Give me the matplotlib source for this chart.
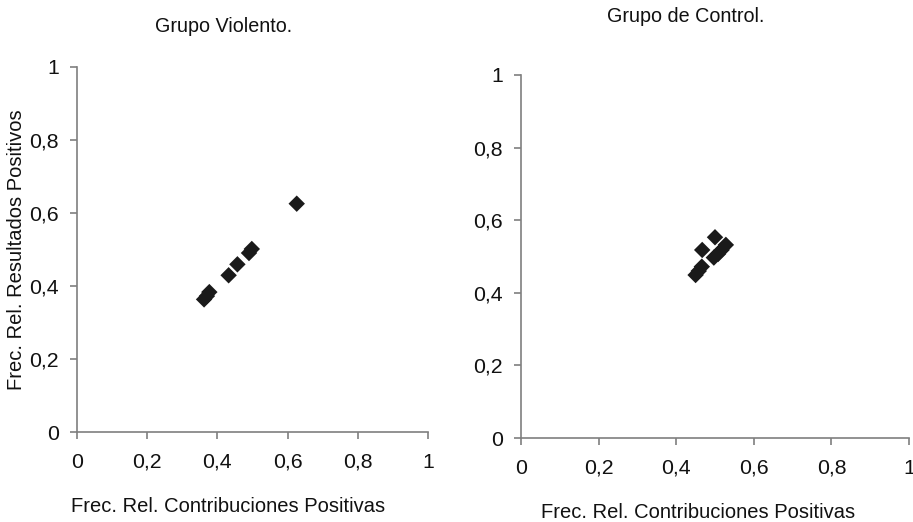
import matplotlib
matplotlib.use("Agg")
import matplotlib.pyplot as plt
from matplotlib.ticker import FuncFormatter

plt.rcParams['font.family'] = ['Liberation Sans', 'DejaVu Sans']

# Data
violento_x = [0.362, 0.370, 0.377, 0.432, 0.457, 0.490, 0.498, 0.626]
violento_y = [0.363, 0.372, 0.383, 0.429, 0.459, 0.490, 0.501, 0.625]
control_x = [0.450, 0.458, 0.466, 0.467, 0.500, 0.497, 0.508, 0.517, 0.528]
control_y = [0.449, 0.460, 0.472, 0.518, 0.553, 0.497, 0.507, 0.518, 0.532]
ticks = [0, 0.2, 0.4, 0.6, 0.8, 1]
titles = ["Grupo Violento.", "Grupo de Control."]
xlabel = "Frec. Rel. Contribuciones Positivas"
ylabel = "Frec. Rel. Resultados Positivos"

W, H = 913, 522
fig = plt.figure(figsize=(W / 100, H / 100), dpi=100)

def box(x0, x1, ytop, ybot):
    return [x0 / W, 1 - ybot / H, (x1 - x0) / W, (ybot - ytop) / H]

fmt = FuncFormatter(lambda v, p: ("%g" % v).replace('.', ','))
gray = '#7f7f7f'

def style(ax):
    ax.set_xlim(0, 1)
    ax.set_ylim(0, 1)
    ax.set_xticks(ticks)
    ax.set_yticks(ticks)
    ax.xaxis.set_major_formatter(fmt)
    ax.yaxis.set_major_formatter(fmt)
    for s in ['top', 'right']:
        ax.spines[s].set_visible(False)
    for s in ['left', 'bottom']:
        ax.spines[s].set_color(gray)
        ax.spines[s].set_linewidth(1.2)
    ax.tick_params(direction='out', length=5, width=1.2, color=gray,
                   labelsize=15.3, labelcolor='#111111')
    ax.tick_params(axis='x', pad=10)
    ax.tick_params(axis='y', pad=8)

ax1 = fig.add_axes(box(77, 428, 66.7, 432))
style(ax1)
ax1.scatter(violento_x, violento_y, marker='D', s=70, color='#1a1a1a',
            edgecolors='none', clip_on=False, zorder=3)
ax2 = fig.add_axes(box(521, 909, 75, 438))
style(ax2)
ax2.scatter(control_x, control_y, marker='D', s=70, color='#1a1a1a',
            edgecolors='none', clip_on=False, zorder=3)

tc = '#111111'
fig.text(224 / W, 1 - 26 / H, titles[0], ha='center', va='center', fontsize=14.2, color=tc)
fig.text(686 / W, 1 - 16 / H, titles[1], ha='center', va='center', fontsize=14.2, color=tc)
fig.text(228 / W, 1 - 507 / H, xlabel, ha='center', va='center', fontsize=14.5, color=tc)
fig.text(698 / W, 1 - 512 / H, xlabel, ha='center', va='center', fontsize=14.5, color=tc)
fig.text(17 / W, 1 - 250 / H, ylabel, ha='center', va='center', fontsize=14.5,
         rotation=90, color=tc)

fig.savefig("out.png", dpi=100)
